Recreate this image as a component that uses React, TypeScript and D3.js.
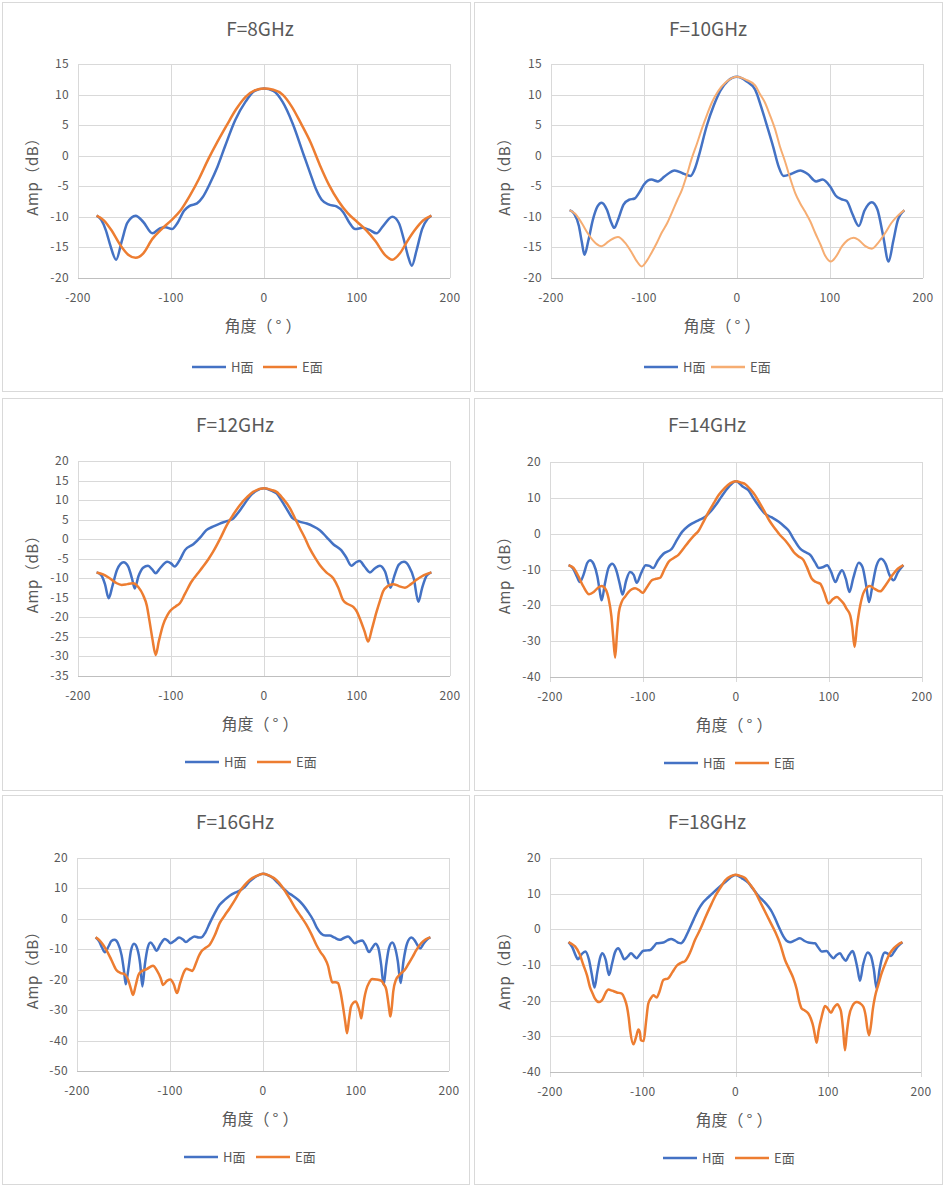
import React from "react";
import * as d3 from "d3";

// values, [angle (deg), amplitude (dB)]
const titles = ["F=8GHz", "F=10GHz", "F=12GHz", "F=14GHz", "F=16GHz", "F=18GHz"];
const seriesNames = ["H面", "E面"];
const xTicks = [-200, -100, 0, 100, 200];

const h8 = [[-180,-9.8],[-175,-10.5],[-170,-12.2],[-165,-14.8],[-159,-17],[-153,-14],[-147,-11],[-138,-9.8],[-130,-10.8],[-120,-12.7],[-112,-11.9],[-106,-11.7],[-99,-12],[-93,-11],[-86,-9],[-80,-8.2],[-72,-7.8],[-66,-6.8],[-58,-4.5],[-50,-1.8],[-42,1.5],[-31,5.8],[-20,8.8],[-10,10.6],[0,11],[10,10.6],[20,8.8],[31,5.2],[43,0],[50,-3],[56,-5.5],[62,-7.2],[70,-8],[78,-8.3],[85,-9.2],[92,-11],[98,-12],[106,-11.8],[113,-12.1],[121,-12.7],[128,-11.5],[138,-10],[145,-11],[150,-13.5],[155,-16.5],[159,-18],[164,-15.5],[170,-12],[176,-10.3],[180,-9.8]];
const e8 = [[-180,-9.8],[-172,-10.6],[-164,-12.2],[-155,-14.5],[-146,-16.2],[-138,-16.7],[-130,-16],[-120,-13.6],[-110,-12],[-100,-10.6],[-90,-9],[-80,-6.6],[-70,-3.8],[-60,-0.6],[-50,2.3],[-40,5],[-30,7.6],[-20,9.6],[-10,10.7],[0,11],[10,10.8],[20,10],[30,8],[40,5.2],[50,2.2],[60,-1.5],[70,-4.8],[80,-7.4],[90,-9.4],[100,-10.8],[110,-12.2],[120,-14],[130,-16.2],[138,-17],[146,-16],[154,-14],[162,-12.2],[171,-10.6],[180,-9.8]];

const h10 = [[-180,-8.9],[-175,-9.5],[-170,-11.5],[-167,-14],[-164,-16.2],[-160,-14],[-155,-10.5],[-150,-8.3],[-145.5,-7.7],[-140,-8.8],[-135,-11],[-132,-11.8],[-128,-10.5],[-122,-8],[-116,-7.2],[-110,-7],[-105,-6],[-100,-4.7],[-92,-3.9],[-85,-4.2],[-78,-3.4],[-67,-2.4],[-58,-2.9],[-50,-3.3],[-45,-2],[-41,0],[-32.5,4.9],[-25,8.2],[-18,10.6],[-10,12.2],[0,12.9],[10,12.2],[19.5,10.8],[26,8],[33,4.5],[39,1.4],[44.6,-1.7],[50,-3.3],[58,-3],[68,-2.4],[76,-3],[85,-4.2],[92,-3.9],[100,-5],[106,-6.5],[112,-7.1],[118,-7.4],[124,-9.5],[131,-11.5],[137,-9],[145,-7.6],[151,-8.8],[157,-13],[163,-17.3],[168,-14],[173,-10.5],[180,-8.9]];
const e10 = [[-180,-8.9],[-174,-9.5],[-167,-11],[-160,-12.8],[-152,-14.3],[-145.5,-14.8],[-138,-14],[-128,-13.3],[-120,-14.3],[-113,-15.9],[-108,-17.2],[-102.5,-18.1],[-97,-17.2],[-92,-15.9],[-86,-14.2],[-81,-12.6],[-75,-11],[-70,-9.3],[-64,-7.2],[-59,-5.5],[-54,-3.2],[-49,-0.6],[-43,2],[-38,4.3],[-32,6.8],[-27,8.7],[-20,10.6],[-12,12],[0,12.9],[10,12.4],[19.5,11.5],[25,10],[30,8.7],[35,6.8],[41,4.3],[46,1.6],[52,-1.1],[57,-3.6],[62.6,-6.1],[68,-7.8],[73,-9.1],[79,-10.8],[84,-12.6],[90,-14.6],[95,-16.4],[101,-17.3],[106,-16.6],[113,-14.8],[119,-13.8],[125.5,-13.4],[131,-13.8],[138,-14.8],[145,-15.2],[152,-14.2],[159.5,-12.6],[166,-11],[173,-9.8],[180,-8.9]];

const h12 = [[-180,-8.5],[-175,-9.2],[-171,-11.5],[-167,-15.1],[-163,-12],[-158,-7.8],[-151,-5.9],[-146,-7],[-142,-10],[-139,-12.6],[-135,-9.5],[-130,-7.3],[-124.7,-6.8],[-120,-7.8],[-116.4,-8.7],[-112,-7.5],[-104,-5.8],[-100,-6.2],[-96,-7],[-91,-5.5],[-85,-2.8],[-76,-1.3],[-68,0.6],[-62,2.3],[-55,3.2],[-47.5,4],[-40,4.6],[-33,5.3],[-27,7],[-22,8.7],[-15,11],[-8,12.4],[0,13],[8,12.4],[13.5,11.7],[19,9.8],[24,7.9],[31,5.3],[38,4.5],[46,4],[53,3.3],[60,2.3],[67,0.6],[74.5,-1.3],[83,-2.8],[88,-4.5],[94,-6.8],[99,-5.9],[103,-5.6],[108,-7],[113.9,-8.5],[119,-7.5],[124.7,-6.8],[130,-8.2],[136,-12.4],[140,-9.5],[145,-6.5],[150.5,-5.8],[156,-7],[161,-10],[166,-16],[170,-12.5],[175,-9.3],[180,-8.5]];
const e12 = [[-180,-8.5],[-173,-9],[-166,-10],[-159,-11.2],[-153,-11.7],[-147,-11.5],[-141,-11.3],[-135,-12.3],[-130,-14.3],[-126,-17],[-123,-21.1],[-120,-25.5],[-116.4,-29.6],[-113,-26],[-108.5,-21.9],[-104,-19.5],[-101,-18.4],[-95,-17.2],[-90.5,-16.4],[-85,-14],[-78,-10.9],[-72,-9],[-65.5,-7],[-60,-5.2],[-54.7,-3.2],[-47,0.2],[-40,3.6],[-33,6.3],[-26,8.7],[-18,10.8],[-11.7,12.1],[0,13],[8,12.6],[13.5,12.1],[20,10.5],[28,7.9],[33,5.5],[38.6,2.8],[44,0.3],[49,-2.3],[55,-4.8],[60,-6.6],[67,-8.5],[74.5,-10],[80,-12.5],[85,-15.6],[90,-16.6],[96,-17.3],[100,-18.6],[103,-20.3],[108,-23.5],[112,-26.2],[116,-23],[121,-18.6],[125,-15.5],[128,-13.4],[133,-12],[139,-11.5],[145,-12],[151.6,-12.4],[158,-11.5],[164,-10.4],[172,-9.2],[180,-8.5]];

const h14 = [[-180,-8.8],[-175,-9.8],[-171,-12],[-168,-13.5],[-164,-11.5],[-160,-8.2],[-157,-7.4],[-153,-8.5],[-149,-12],[-146.5,-16],[-144.5,-18.6],[-141,-14],[-137,-9.5],[-133,-8.4],[-129,-10],[-125,-14],[-122,-17],[-118,-13],[-114,-10.7],[-110,-11.5],[-106.8,-13.7],[-102,-11],[-97,-8.8],[-93,-9],[-89,-9.6],[-84,-7.5],[-78,-5.6],[-69,-4.2],[-63,-1.5],[-58,0.5],[-52,2],[-47.5,2.8],[-40,3.8],[-33,4.7],[-27,6.3],[-22,7.9],[-16,10.2],[-8,13],[0,14.6],[8,13],[13.5,12.1],[19,9.8],[24,7.9],[31,5.6],[38,4.6],[46,3.3],[52,2],[56.5,0.9],[62,-1.5],[69,-4.2],[75,-5.2],[80,-6],[85,-8],[89,-9.6],[94,-9.3],[98,-8.8],[102,-10.5],[107,-13.5],[110.5,-11.5],[114,-10.2],[118,-12.5],[122,-16.3],[126,-12.5],[132,-8.1],[136,-9.3],[140,-14.5],[143,-19.1],[147,-14],[151,-9],[156,-7],[161,-8.5],[165,-11.5],[169.5,-13],[174,-10.8],[180,-8.8]];
const e14 = [[-180,-8.8],[-175,-9.5],[-170,-11.6],[-164,-14.8],[-158,-16.9],[-153,-16.3],[-148,-15],[-144.5,-14.6],[-140,-15.6],[-137,-18.1],[-134,-23],[-132,-29],[-130,-34.6],[-128,-28],[-126,-22],[-123,-19.1],[-119,-17.5],[-115.6,-16.3],[-112,-15.5],[-108.5,-15.2],[-104,-15.8],[-100.5,-16.5],[-96,-15],[-90.5,-13],[-86,-12.6],[-81.5,-12.3],[-77,-10],[-72.6,-7.9],[-67,-6.8],[-61.9,-5.9],[-56,-4],[-51,-2.3],[-45,-0.5],[-40,0.9],[-35,3.3],[-29.6,6],[-24,8.5],[-18.8,10.7],[-12,12.8],[-6,14.1],[0,14.6],[6,14.2],[10,13.8],[15,12.5],[20.6,10.7],[26,8.3],[31,6],[36,3.6],[42,1.4],[47,-0.3],[53,-1.9],[58,-3.6],[62,-5.1],[67,-6.3],[72.6,-7.4],[76,-9.2],[81.6,-12.6],[86,-13.5],[90.6,-14],[95,-16.5],[99.5,-19.5],[104,-18.3],[108.5,-17.7],[112,-18.4],[115.7,-19.5],[119,-21],[122.8,-22.8],[125,-26],[127.5,-31.6],[130,-26],[133.6,-20],[138,-16],[144,-14.6],[149,-15.4],[155,-16.1],[161,-14.3],[168,-11.6],[174,-9.8],[180,-8.8]];

const h16 = [[-180,-6.1],[-176,-7.5],[-173,-9.5],[-170,-11],[-166,-9],[-163,-7.3],[-159.5,-6.9],[-156,-8],[-152,-12],[-149.5,-17],[-147.6,-21.5],[-145,-17],[-142,-10.5],[-138.7,-8.2],[-135,-10],[-132,-15],[-129.7,-22.2],[-127,-15],[-124,-9.5],[-121,-7.8],[-117.5,-9],[-114.7,-10.5],[-110,-8.2],[-105.7,-6.6],[-102,-7.3],[-99.6,-8],[-95,-7.2],[-90.3,-6.1],[-86,-6.8],[-83,-7.6],[-78,-6.5],[-73.5,-5.8],[-69,-6.1],[-66.3,-6.1],[-62,-4.5],[-57.3,-1.4],[-52,1.8],[-46.6,4.6],[-41,6.3],[-35.8,7.6],[-30,8.6],[-25,9.3],[-20,10.4],[-14.3,12.3],[-7,14],[0,14.8],[5,14.4],[10.75,13.4],[16,11.8],[21.5,10.1],[27,8.6],[32,7.6],[38,6.2],[43,4.6],[48,2.5],[53.8,-0.3],[58,-3],[62.7,-4.9],[67,-5.5],[71.7,-5.5],[77,-6.2],[82.4,-6.9],[87,-6.3],[91.4,-5.8],[95,-6.8],[98.6,-8],[102,-7.5],[106.8,-7.1],[110,-8.5],[114,-10.9],[117.5,-9.5],[121,-8.2],[124,-9.5],[127,-15],[129.7,-21.7],[132.5,-15],[135.5,-9.5],[139,-7.8],[142,-9.5],[145,-14],[148,-21.1],[151,-14],[155,-8],[159.5,-6.1],[163,-7],[166,-8.6],[169,-9.7],[173,-8],[177,-6.6],[180,-6.1]];
const e16 = [[-180,-6.1],[-176,-7],[-172,-8.5],[-168.5,-10.2],[-163,-13.5],[-157.7,-16.8],[-153,-17.8],[-148.7,-18.2],[-145,-20],[-142,-23],[-139.8,-25],[-137,-22],[-134,-18.5],[-130.8,-17.3],[-125,-16.5],[-118.3,-15.4],[-114,-17],[-110,-19.5],[-107.5,-21.7],[-103,-20.3],[-99.6,-19.9],[-96,-21.5],[-92.5,-24.4],[-89,-21],[-85,-17.5],[-82.4,-16.4],[-78.5,-16.8],[-76,-17.1],[-72,-14.5],[-69,-12.2],[-66.3,-10.7],[-62,-9.6],[-57.3,-8.5],[-52,-5.5],[-46.6,-1.4],[-41,1.2],[-35.8,3.5],[-30,6.3],[-25,9],[-20,11],[-14.3,12.8],[-7,14.1],[0,14.8],[7,14.2],[14.3,12.8],[20,10.8],[25,8.5],[30,6],[35.8,3],[41,0.7],[46.6,-1.9],[52,-5],[57.3,-8.5],[62,-11],[66.3,-12.9],[70,-15.5],[72.5,-19],[74.5,-20.9],[78,-20.8],[80.6,-21.1],[83,-23.5],[86,-28.8],[88.5,-34],[90.3,-37.6],[92.5,-33],[94.5,-29],[96.8,-27.7],[99.6,-27.2],[102,-28.5],[104,-30.5],[105.7,-32.7],[107.5,-29],[109,-26],[111,-23.3],[114,-21],[117.5,-19.8],[122,-19.9],[127,-20.3],[130,-21.5],[132.6,-23.3],[134.5,-27],[136,-30.5],[137,-32.1],[138.5,-29],[140,-24],[143,-20],[147,-18.3],[152.3,-16.8],[156,-15],[161,-12.4],[165,-10.2],[170,-8],[175,-6.7],[180,-6.1]];

const h18 = [[-180,-3.6],[-176,-5],[-172,-7.5],[-170,-8.4],[-166,-7],[-162,-6.2],[-158,-8.5],[-155,-12.5],[-152,-16.3],[-149,-12],[-146,-8],[-143.6,-6.7],[-140,-8.5],[-136.4,-12.8],[-133,-9.5],[-130,-6.5],[-126.4,-5.3],[-123,-6.8],[-120,-8.4],[-116,-7.6],[-112.7,-6.7],[-109,-7.6],[-106.6,-8.1],[-103,-7],[-99.4,-6],[-95,-5.9],[-92,-5.8],[-88,-4.8],[-85,-3.9],[-77.8,-3.7],[-73,-3],[-69.5,-2.7],[-65,-3.2],[-61,-3.8],[-58.7,-3.9],[-55,-2.8],[-50.9,-0.6],[-45,2.8],[-40,5.5],[-35,7.5],[-29.3,9],[-24,10.3],[-18.5,11.6],[-10,13.5],[0,15.2],[7,14.3],[14,13],[19,11.3],[24.6,9.4],[30,8],[35.4,6.4],[39,5],[42.6,3.1],[47,0.5],[51.6,-2],[55,-3.2],[58.8,-3.6],[64,-3.1],[69.5,-2.5],[74,-3.2],[78.5,-3.7],[85.7,-3.9],[89,-5],[92.9,-6.2],[98.3,-6.1],[102,-7.2],[105.5,-8.1],[109,-7.2],[112.7,-6.7],[115.5,-7.8],[118.8,-8.8],[122.5,-7.2],[126.3,-6.1],[129,-8],[131.5,-11],[134.2,-14.4],[137.5,-10],[142.5,-6.5],[146,-7.5],[149,-11],[152.2,-16.6],[155.5,-11],[158,-8],[161,-6.5],[164,-6.8],[167.7,-7.5],[171,-6.3],[175,-4.8],[180,-3.6]];
const e18 = [[-180,-3.6],[-176,-4.2],[-173,-4.8],[-168,-7],[-164,-10],[-160,-13],[-157,-16.1],[-154,-18],[-151.5,-19.4],[-147,-20.4],[-143,-19.5],[-140,-17.8],[-137,-16.9],[-133,-17.2],[-128,-17.7],[-122.7,-18],[-119.5,-19.5],[-117,-21.7],[-115,-25],[-113.6,-28.3],[-110,-32.2],[-107,-30],[-104.7,-28.1],[-103,-29],[-102,-31.1],[-99,-31.3],[-96.5,-26],[-94,-20.8],[-91,-19.2],[-88.6,-18.5],[-85,-19.1],[-82,-17.5],[-77.8,-14.2],[-72.4,-13.7],[-68,-12],[-63.4,-10.2],[-58,-9.3],[-54.4,-8.9],[-49,-6.5],[-43.7,-3],[-38,0],[-32.9,3.1],[-27,6.5],[-22,9.2],[-16,11.8],[-11.3,13.7],[-5,14.9],[0,15.3],[5,15],[10.3,14.4],[15,12.8],[21,10.6],[26,8],[31.8,5],[37,2.3],[42.6,-0.6],[48,-4],[53.4,-8.6],[58,-11.2],[62.3,-13.7],[66,-16.8],[69,-20.5],[71.3,-22.2],[75,-22.8],[78.5,-23.6],[81.5,-25.2],[83.9,-27.3],[85.5,-29.5],[87.5,-31.8],[89.5,-28.5],[92.9,-24.5],[96.5,-21.5],[99,-22],[103,-23.4],[106,-22],[110,-21],[112,-21.8],[113.8,-23.1],[116,-28],[118,-33.9],[120,-29],[122.3,-24.5],[126,-21.5],[130.6,-20.4],[134,-20.7],[137.8,-21.7],[140.5,-24.5],[142,-27.5],[144,-29.7],[146,-27],[148,-22.5],[150.4,-18.9],[154,-15.5],[157.6,-12.3],[162,-9.3],[166.6,-6.7],[171,-5.2],[175,-4.3],[180,-3.6]];

const hSeries = [h8, h10, h12, h14, h16, h18];
const eSeries = [e8, e10, e12, e14, e16, e18];
const yRanges = [[-20, 15, 5], [-20, 15, 5], [-35, 20, 5], [-40, 20, 10], [-50, 20, 10], [-40, 20, 10]];

// layout of each chart on the page
const BLUE = "#4472C4";
const ORANGE = "#ED7D31";
const layout = [
  { box: [2, 2, 468, 389], plot: [78, 64, 450, 278], titleX: 260, axisX: 263, legX: 192, legGap: 71, ticks: false, eColor: ORANGE, eWidth: 2.5 },
  { box: [474, 2, 468, 389], plot: [551, 64, 923, 278], titleX: 708, axisX: 722, legX: 644, legGap: 67, ticks: false, eColor: "#F6AD72", eWidth: 2 },
  { box: [2, 398, 467, 392], plot: [78, 461, 450, 676], titleX: 235, axisX: 260, legX: 185, legGap: 72, ticks: false, eColor: ORANGE, eWidth: 2.5 },
  { box: [474, 398, 468, 392], plot: [550, 462, 922, 677], titleX: 707, axisX: 734, legX: 664, legGap: 71, ticks: true, eColor: ORANGE, eWidth: 2.5 },
  { box: [2, 795, 467, 389], plot: [77, 858, 449, 1071], titleX: 235, axisX: 260, legX: 184, legGap: 72, ticks: false, eColor: ORANGE, eWidth: 2.5 },
  { box: [474, 795, 468, 389], plot: [550, 858, 921, 1072], titleX: 707, axisX: 734, legX: 663, legGap: 72, ticks: true, eColor: ORANGE, eWidth: 2.5 },
];

const FONT = "'Noto Sans CJK SC', 'Noto Sans', sans-serif";
const TEXT = "#595959";

const Panel = ({ i }) => {
  const L = layout[i];
  const [bx, by, bw, bh] = L.box;
  const [x0, y0, x1, y1] = L.plot;
  const [yMin, yMax, yStep] = yRanges[i];

  const x = d3.scaleLinear().domain([-200, 200]).range([x0, x1]);
  const y = d3.scaleLinear().domain([yMin, yMax]).range([y1, y0]);
  const yTicks = d3.range(yMin, yMax + yStep / 2, yStep);

  const line = d3.line()
    .x((d) => x(d[0]))
    .y((d) => y(d[1]))
    .curve(d3.curveMonotoneX);

  const legY = y1 + (i < 2 ? 89 : 86);

  return (
    <g fontFamily={FONT}>
      <rect x={bx + 0.5} y={by + 0.5} width={bw} height={bh} fill="#fff" stroke="#D9D9D9" />
      <text x={L.titleX} y={by + 34} textAnchor="middle" fontSize={19} fill={TEXT}>{titles[i]}</text>

      {yTicks.map((t) => (
        <g key={"y" + t}>
          <line x1={x0} x2={x1} y1={Math.round(y(t)) + 0.5} y2={Math.round(y(t)) + 0.5}
            stroke={t === yMin ? "#BFBFBF" : "#D9D9D9"} />
          <text x={x0 - 9} y={y(t) + 4} textAnchor="end" fontSize={12} letterSpacing={0.4} fill={TEXT}>{t}</text>
        </g>
      ))}
      {xTicks.map((t) => (
        <g key={"x" + t}>
          <line x1={Math.round(x(t)) + 0.5} x2={Math.round(x(t)) + 0.5} y1={y0} y2={L.ticks ? y1 + 5 : y1}
            stroke="#D9D9D9" />
          <text x={x(t)} y={y1 + 24} textAnchor="middle" fontSize={12} letterSpacing={0.4} fill={TEXT}>{t}</text>
        </g>
      ))}
      <line x1={x0} x2={x1} y1={Math.round(y(yMin)) + 0.5} y2={Math.round(y(yMin)) + 0.5} stroke="#BFBFBF" />

      <path d={line(hSeries[i])} fill="none" stroke={BLUE} strokeWidth={2.5} strokeLinejoin="round" />
      <path d={line(eSeries[i])} fill="none" stroke={L.eColor} strokeWidth={L.eWidth} strokeLinejoin="round" />

      <text x={L.axisX} y={y1 + 54} textAnchor="middle" fontSize={16} fill={TEXT}>
        角度（<tspan dx={3}>°</tspan><tspan dx={4}>）</tspan>
      </text>
      <text transform={`translate(${bx + 36},${(y0 + y1) / 2 + 2}) rotate(-90)`} textAnchor="middle" fontSize={15} letterSpacing={0.6} fill={TEXT}>Amp（dB）</text>

      <line x1={L.legX} x2={L.legX + 34} y1={legY} y2={legY} stroke={BLUE} strokeWidth={2.5} />
      <text x={L.legX + 39} y={legY + 5} fontSize={13} fill={TEXT}>{seriesNames[0]}</text>
      <line x1={L.legX + L.legGap} x2={L.legX + L.legGap + 34} y1={legY} y2={legY} stroke={L.eColor} strokeWidth={2.5} />
      <text x={L.legX + L.legGap + 39} y={legY + 5} fontSize={13} fill={TEXT}>{seriesNames[1]}</text>
    </g>
  );
};

export default function App() {
  return (
    <svg width={943} height={1185} style={{ position: "absolute", left: 0, top: 0, background: "#fff" }}>
      {titles.map((_, i) => <Panel key={i} i={i} />)}
    </svg>
  );
}
